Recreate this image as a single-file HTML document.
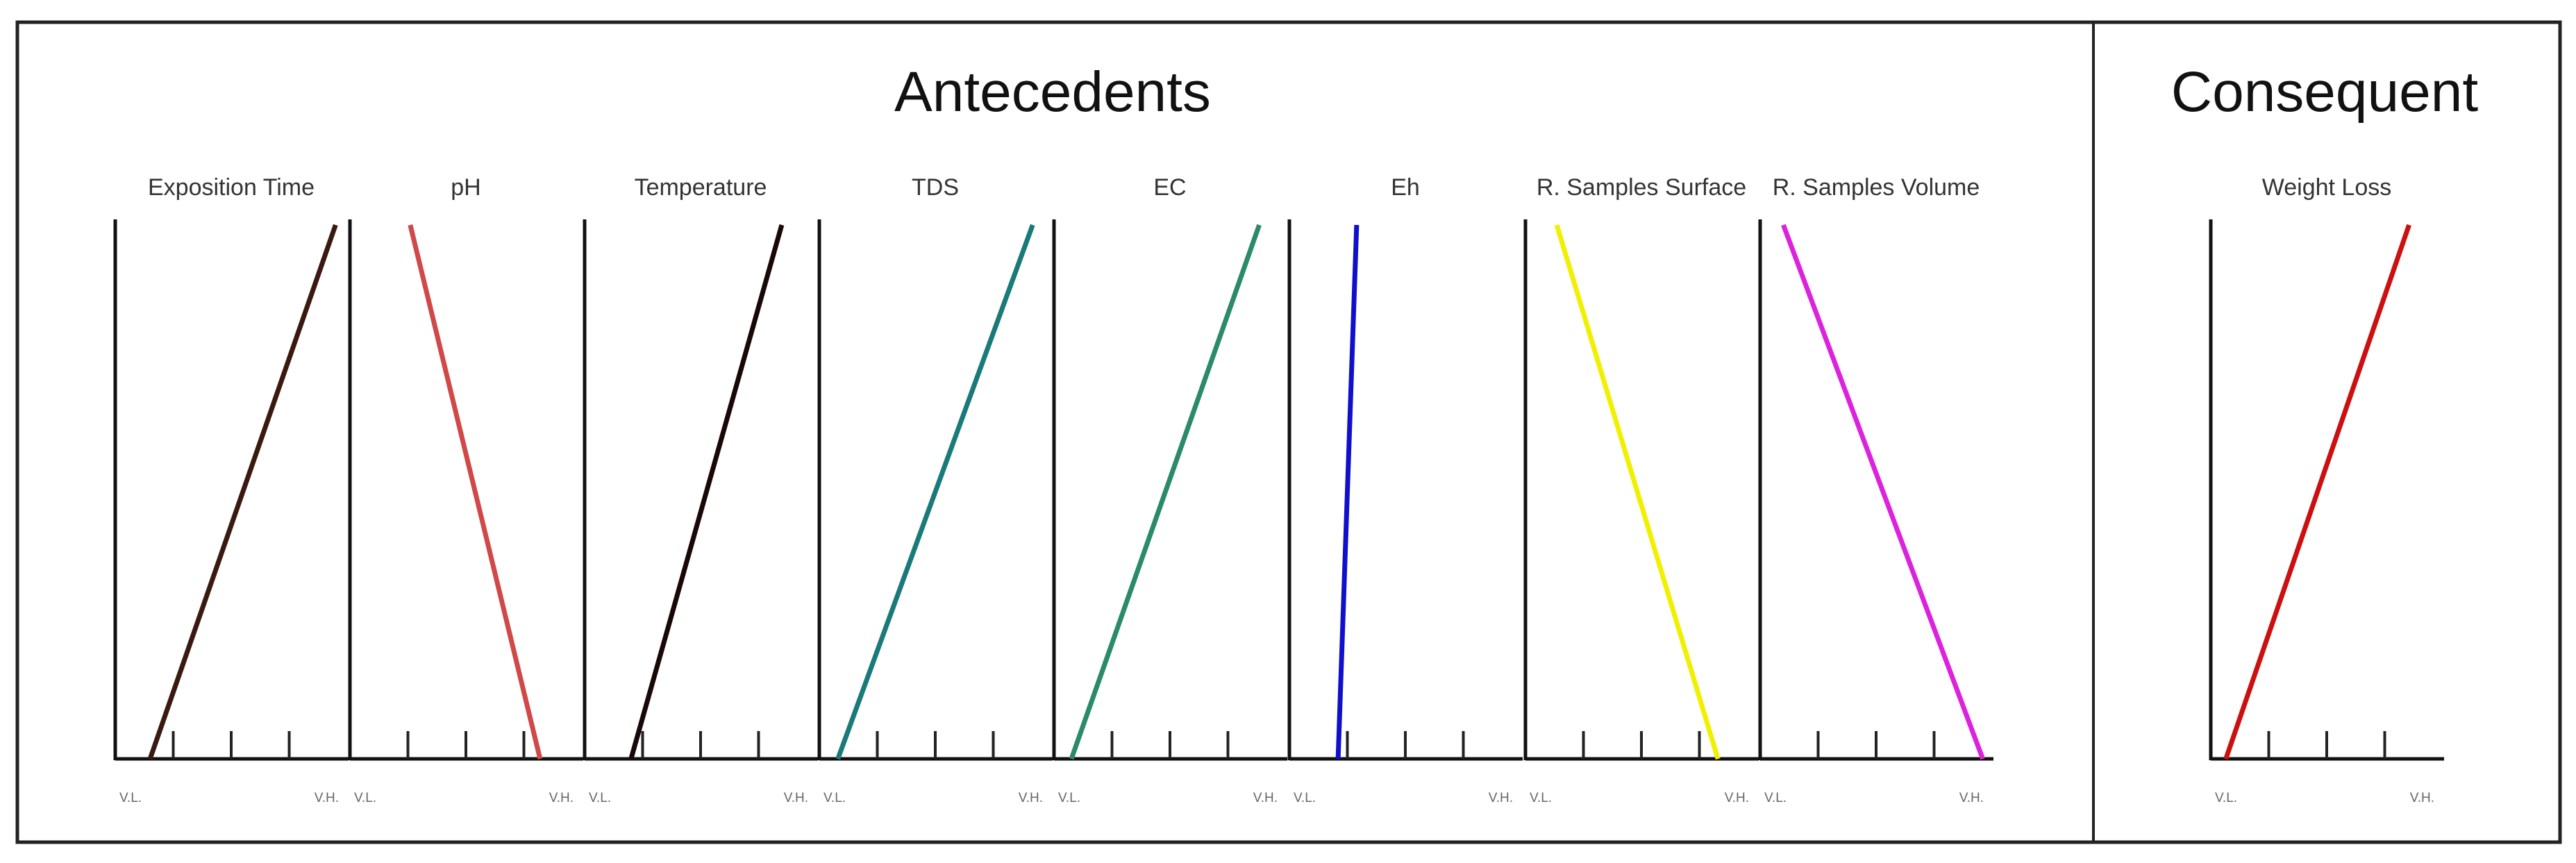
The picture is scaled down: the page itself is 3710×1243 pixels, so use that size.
<!DOCTYPE html>
<html><head><meta charset="utf-8"><style>
html,body{margin:0;padding:0;background:#fff;}
svg{display:block;}
text{font-family:"Liberation Sans",sans-serif;}
</style></head><body>
<svg id="chart" width="3710" height="1243" viewBox="0 0 3710 1243" xmlns="http://www.w3.org/2000/svg">
<rect x="25" y="32" width="3662" height="1181" fill="none" stroke="#222" stroke-width="5"/>
<line x1="3015" y1="32" x2="3015" y2="1213" stroke="#222" stroke-width="4"/>
<text x="1516" y="160" font-size="82" text-anchor="middle" fill="#111">Antecedents</text>
<text x="3348" y="160" font-size="82" text-anchor="middle" fill="#111">Consequent</text>
<g id="panels"></g>
</svg>
<script>
const titles = ["Exposition Time","pH","Temperature","TDS","EC","Eh","R. Samples Surface","R. Samples Volume","Weight Loss"];
const lowLabels = ["V.L.","V.L.","V.L.","V.L.","V.L.","V.L.","V.L.","V.L.","V.L."];
const highLabels = ["V.H.","V.H.","V.H.","V.H.","V.H.","V.H.","V.H.","V.H.","V.H."];
// x-position (0..1 of universe) where membership = 0 (bottom) and = 1 (top)
const xAtZero = [0.15,0.82,0.20,0.08,0.075,0.21,0.83,0.96,0.065];
const xAtOne  = [0.95,0.26,0.85,0.92,0.885,0.29,0.135,0.10,0.855];
const tickValues = [0.25,0.5,0.75];
const colors = ["#3a1a10","#d04848","#1a0808","#1a7a7a","#2a8a6a","#1010cc","#f0f000","#dd22dd","#cc1010"];

const ns = "http://www.w3.org/2000/svg";
const g = document.getElementById("panels");
const axisX = [166,504,842,1180,1518,1857,2197,2535,3184];
const W = 334, yTop = 316, yBase = 1093;
function mk(tag, attrs){const e=document.createElementNS(ns,tag);for(const k in attrs)e.setAttribute(k,attrs[k]);return e;}
titles.forEach((t,i)=>{
  const x0 = axisX[i];
  const sx = v => x0 + v*W;
  const sy = m => yBase - m*(yBase-324);
  const grp = mk("g",{});
  
  
  const yAx = mk("line",{x1:x0,y1:yTop,x2:x0,y2:yBase+2,stroke:"#111","stroke-width":5});
  
  
  grp.appendChild(yAx);
  const xAx = mk("line",{x1:x0,y1:yBase,x2:x0+W+2,y2:yBase,stroke:"#111","stroke-width":5});
  
  
  grp.appendChild(xAx);
  tickValues.forEach(tv=>{
    const tk = mk("line",{x1:sx(tv),y1:1053,x2:sx(tv),y2:yBase,stroke:"#222","stroke-width":4});
    
    
    grp.appendChild(tk);
  });
  const ln = mk("line",{x1:sx(xAtZero[i]),y1:sy(0),x2:sx(xAtOne[i]),y2:sy(1),stroke:colors[i],"stroke-width":7});
  
  
  grp.appendChild(ln);
  const tt = mk("text",{x:x0+W/2,y:281,"font-size":34,"text-anchor":"middle",fill:"#333"});
  tt.textContent = t;
  
  
  grp.appendChild(tt);
  const lo = mk("text",{x:x0+6,y:1155,"font-size":19,fill:"#666"});
  lo.textContent = lowLabels[i];
  
  
  grp.appendChild(lo);
  const hi = mk("text",{x:x0+W-12,y:1155,"font-size":19,fill:"#666","text-anchor":"end"});
  hi.textContent = highLabels[i];
  
  
  grp.appendChild(hi);
  g.appendChild(grp);
});
</script>
</body></html>
